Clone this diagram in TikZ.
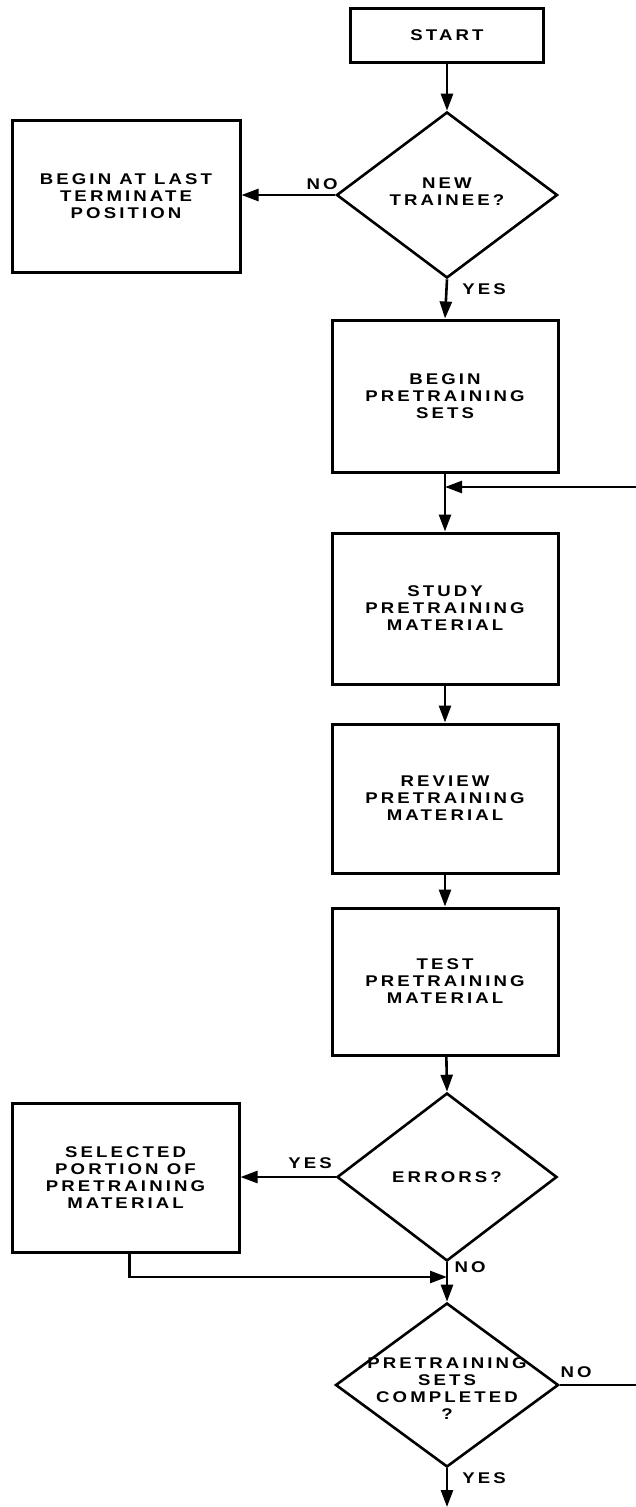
\documentclass[tikz,border=0pt]{standalone}
\usepackage{fontspec}
\usetikzlibrary{arrows.meta,shapes.geometric,calc}
\newfontfamily\labfont[FakeStretch=1.2,LetterSpace=20]{Liberation Sans}
\begin{document}
\begin{tikzpicture}[x=1pt,y=-1pt,
  every node/.style={font=\labfont\bfseries\fontsize{15.5}{17}\selectfont, align=center, inner sep=0pt},
  box/.style={draw, line width=3pt, rectangle, minimum width=226pt},
  dia/.style={draw, line width=2.6pt, diamond, minimum width=221pt, minimum height=166pt},
  conn/.style={line width=2.6pt, -{Triangle[length=17pt,width=12pt]}},
  plain/.style={line width=2.6pt}]
\useasboundingbox (0,0) rectangle (636,1507);

\node[box, minimum width=193pt, minimum height=54pt] (start) at (447,35) {START};
\node[dia] (d1) at (447,195) {};
\node at (447,192) {NEW\\TRAINEE?};
\node[box, minimum width=228pt, minimum height=152pt] (last) at (126,196) {BEGIN AT LAST\\TERMINATE\\POSITION};
\node[box, minimum height=152pt] (begin) at (445,396) {BEGIN\\PRETRAINING\\SETS};
\node[box, minimum height=151pt] (study) at (445,608.5) {STUDY\\PRETRAINING\\MATERIAL};
\node[box, minimum height=149pt] (review) at (445,798.5) {REVIEW\\PRETRAINING\\MATERIAL};
\node[box, minimum height=147pt] (test) at (445,981.5) {TEST\\PRETRAINING\\MATERIAL};
\node[dia, minimum height=168pt, minimum width=220pt] (err) at (447,1177) {};
\node at (447,1177) {ERRORS?};
\node[box, minimum width=227pt, minimum height=149pt] (sel) at (125.5,1177.5) {SELECTED\\PORTION OF\\PRETRAINING\\MATERIAL};
\node[dia, minimum height=164pt, minimum width=223pt] (d3) at (447,1385) {};
\node at (447,1389) {PRETRAINING\\SETS\\COMPLETED\\?};

\node (no1) at (322,184) {NO};
\node (yes1) at (484,289) {YES};
\node (yes2) at (310,1163) {YES};
\node (no2) at (470,1267) {NO};
\node (no3) at (576,1372) {NO};
\node (yes3) at (484,1478) {YES};

\coordinate (loopin) at (636,487);
\coordinate (merge) at (447,1277);
\coordinate (noout) at (636,1385);
\coordinate (endout) at (447,1507);

\draw[conn] (start) -- (d1.north);
\draw[conn] (d1.west) -- (last.east |- d1.west);
\draw[conn] (d1.south) -- (begin.north);
\draw[conn] (begin.south) -- (study.north);
\draw[conn] (loopin) -- (begin.south |- loopin);
\draw[conn] (study) -- (review);
\draw[conn] (review) -- (test);
\draw[conn] (test) -- (err.north);
\draw[conn] (err.west) -- (sel.east |- err.west);
\draw[conn] (err.south) -- (d3.north);
\draw[conn] ($(sel.south)+(4,0)$) |- (merge);
\draw[plain] (d3.east) -- (noout);
\draw[conn] (d3.south) -- (endout);
\end{tikzpicture}
\end{document}
